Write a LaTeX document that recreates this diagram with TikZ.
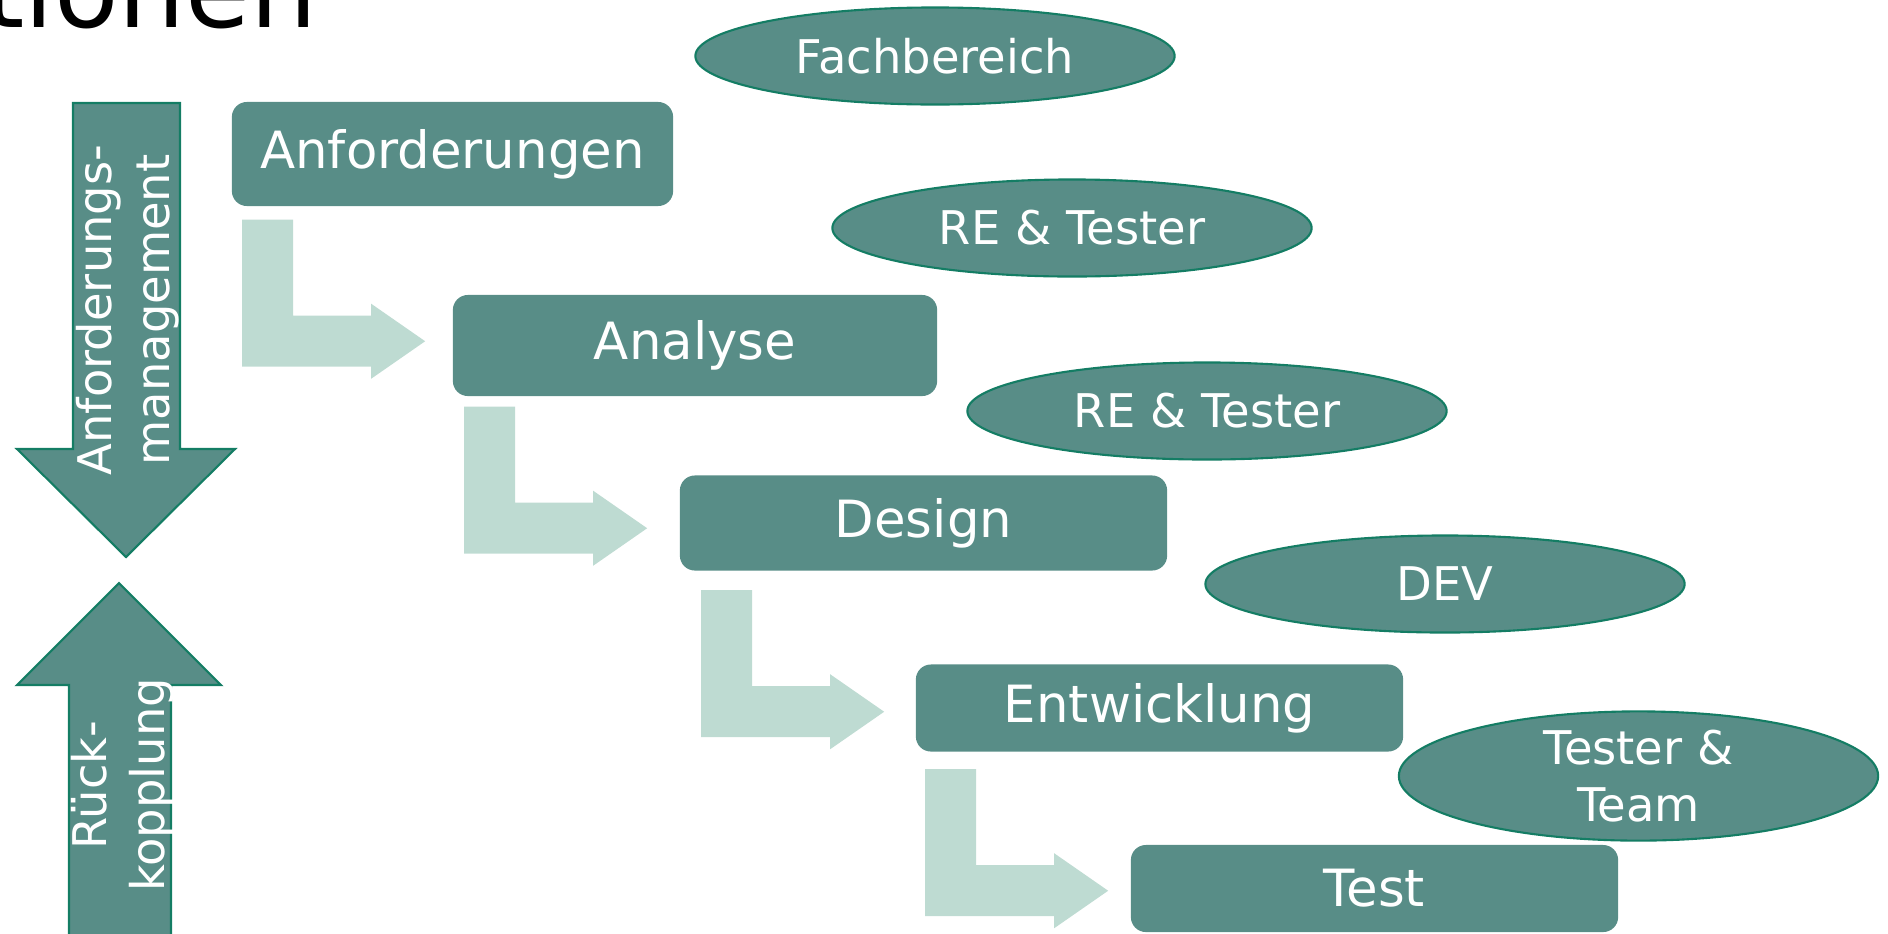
\documentclass[tikz,border=0pt]{standalone}
\usepackage{fontspec}
\setmainfont{DejaVu Sans}
\usetikzlibrary{shapes.geometric,calc}

\definecolor{teal1}{HTML}{588D87}
\definecolor{rim}{HTML}{147D64}
\definecolor{pale}{HTML}{BEDBD2}

\begin{document}
\begin{tikzpicture}[x=0.01cm, y=-0.01cm,
        stage/.style={rectangle, rounded corners=0.15cm, fill=teal1, text=white,
                        inner sep=0pt, font=\fontsize{14.6}{17.5}\selectfont},
        role/.style={ellipse, draw=rim, line width=0.6pt, fill=teal1, text=white,
                        inner sep=0pt, minimum width=4.79cm, minimum height=0.97cm,
                        align=center, font=\fontsize{13.2}{16}\selectfont},
        vtext/.style={rotate=90, align=center, text=white,
                        font=\fontsize{13.2}{16.4}\selectfont},
        bigarrow/.style={draw=rim, line width=0.6pt, fill=teal1},
        pics/bent/.style={code={
            \fill[pale] (0,0) -- (51,0) -- (51,96) -- (129,96) -- (129,84)
                -- (183,121.5) -- (129,159) -- (129,147) -- (0,147) -- cycle;
        }}]
    \useasboundingbox (0,0) rectangle (1888,933);

    % title, cut off at the top
    \node[anchor=base east, inner sep=0pt, font=\fontsize{30}{36}\selectfont] (ttl) at (318,27) {tionen};

    % left arrows
    \draw[bigarrow] (73,103) -- (180,103) -- (180,449) -- (235,449)
        -- (126,557) -- (17,449) -- (73,449) -- cycle;
    \node[vtext] (am) at (128,310) {Anforderungs-\\management};
    \draw[bigarrow] (69,945) -- (69,685) -- (17,685) -- (119,583)
        -- (221,685) -- (171,685) -- (171,945);
    \node[vtext] (rk) at (123,785) {Rück-\\kopplung};

    % phases
    \node[stage, minimum width=4.41cm, minimum height=1.04cm] (anf) at (452.5,154) {Anforderungen};
    \node[stage, minimum width=4.84cm, minimum height=1.01cm] (ana) at (695,345.5) {Analyse};
    \node[stage, minimum width=4.87cm, minimum height=0.95cm] (des) at (923.5,523) {Design};
    \node[stage, minimum width=4.87cm, minimum height=0.87cm] (ent) at (1159.5,708) {Entwicklung};
    \node[stage, minimum width=4.87cm, minimum height=0.87cm] (tst) at (1374.5,888.5) {Test};

    \foreach \n/\dx/\dy in {anf/11/13, ana/12/10, des/22/19, ent/10/17}
        \pic at ($(\n.south west)+(\dx,\dy)$) {bent};

    % roles
    \node[role] (fb) at (935,56) {Fachbereich};
    \node[role] (re1) at (1072,228) {RE \& Tester};
    \node[role] (re2) at (1207,411) {RE \& Tester};
    \node[role] (dev) at (1445,584) {DEV};
    \node[role, minimum height=1.15cm] (tt) at (1638.5,776) {Tester \&\\Team};
\end{tikzpicture}
\end{document}
